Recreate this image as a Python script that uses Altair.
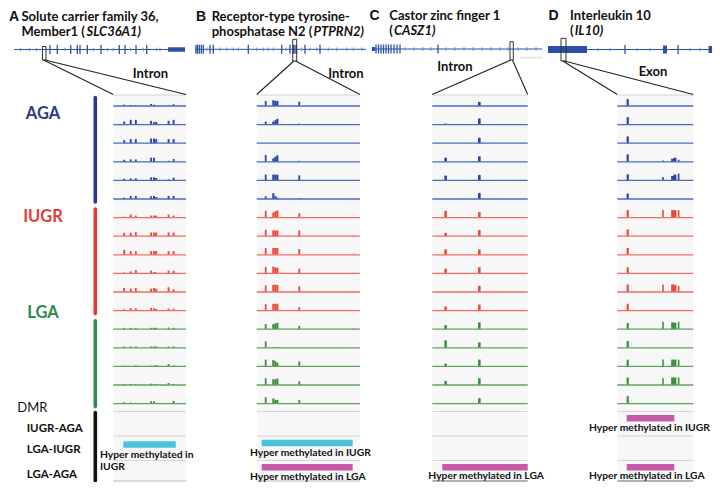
import altair as alt
import pandas as pd

# ------------------------------------------------------------------ data
GROUPS = ["AGA"] * 6 + ["IUGR"] * 6 + ["LGA"] * 5

# relative CpG positions inside each zoomed window (0-100) and methylation levels per sample track
A_pos = [15, 24, 31, 52, 56, 59, 76, 83]
A_lev = [
    [0.20, 0.15, 0.12, 0.30, 0.20, 0.00, 0.10, 0.25],
    [0.45, 0.70, 0.70, 0.55, 0.35, 0.40, 0.55, 0.70],
    [0.45, 0.60, 0.60, 0.70, 0.70, 0.60, 0.60, 0.60],
    [0.30, 0.35, 0.35, 0.60, 0.60, 0.00, 0.15, 0.40],
    [0.25, 0.30, 0.30, 0.45, 0.45, 0.35, 0.15, 0.40],
    [0.20, 0.45, 0.45, 0.40, 0.45, 0.30, 0.45, 0.45],
    [0.15, 0.45, 0.30, 0.30, 0.30, 0.30, 0.45, 0.30],
    [0.50, 0.50, 0.60, 0.55, 0.55, 0.55, 0.55, 0.55],
    [0.75, 0.55, 0.55, 0.55, 0.55, 0.55, 0.55, 0.55],
    [0.15, 0.30, 0.50, 0.40, 0.20, 0.15, 0.40, 0.40],
    [0.60, 0.50, 0.60, 0.50, 0.60, 0.50, 0.70, 0.40],
    [0.20, 0.35, 0.35, 0.40, 0.35, 0.25, 0.30, 0.30],
    [0.20, 0.20, 0.15, 0.20, 0.20, 0.20, 0.25, 0.20],
    [0.20, 0.20, 0.20, 0.20, 0.20, 0.20, 0.20, 0.20],
    [0.10, 0.00, 0.15, 0.10, 0.10, 0.20, 0.35, 0.15],
    [0.15, 0.15, 0.15, 0.20, 0.10, 0.10, 0.30, 0.15],
    [0.20, 0.15, 0.10, 0.35, 0.35, 0.00, 0.10, 0.40],
]
B_pos = [8.7, 16.1, 18.1, 20.0, 41.2, 94.2]
B_lev = [
    [0.75, 0.85, 0.75, 0.75, 0.65, 0.00],
    [0.45, 0.45, 0.65, 0.85, 0.15, 0.00],
    [0.00, 0.00, 0.00, 0.00, 0.00, 0.00],
    [1.00, 0.50, 0.75, 0.95, 0.15, 0.00],
    [0.85, 0.85, 0.85, 0.85, 0.75, 0.00],
    [0.40, 0.85, 0.40, 0.20, 0.15, 0.00],
    [1.00, 0.75, 0.95, 1.05, 0.65, 0.00],
    [0.95, 0.85, 0.85, 0.85, 0.85, 0.10],
    [1.00, 1.00, 1.00, 1.00, 0.85, 0.15],
    [0.95, 1.00, 0.85, 0.85, 0.70, 0.10],
    [0.95, 1.05, 1.05, 1.05, 0.85, 0.10],
    [0.95, 1.00, 1.00, 1.00, 0.50, 0.10],
    [0.75, 0.75, 0.85, 0.95, 0.50, 0.10],
    [0.95, 0.10, 0.10, 0.10, 0.00, 0.00],
    [1.00, 0.95, 0.75, 0.55, 0.75, 0.00],
    [1.00, 0.85, 0.85, 0.95, 0.55, 0.00],
    [0.95, 0.75, 0.55, 0.55, 0.55, 0.00],
]
C_pos = [14.0, 49.3]
C_lev = [
    [0.00, 0.60], [0.15, 0.90], [0.00, 0.80], [0.60, 0.80], [0.70, 0.80], [0.00, 0.90],
    [1.00, 0.80], [0.50, 0.90], [0.80, 0.80], [0.70, 0.90], [0.00, 0.90], [0.60, 0.90],
    [0.60, 1.00], [1.10, 0.80], [0.40, 1.00], [0.60, 1.00], [0.00, 0.80],
]
D_pos = [13.7, 60.1, 72.8, 75.8, 80.7]
D_lev = [
    [1.00, 0.00, 0.00, 0.00, 0.00],
    [1.10, 0.00, 0.00, 0.00, 0.00],
    [1.00, 0.00, 0.00, 0.00, 0.00],
    [1.10, 0.20, 0.45, 0.60, 0.30],
    [0.90, 0.50, 0.65, 0.85, 1.00],
    [0.80, 0.00, 0.00, 0.00, 0.00],
    [1.10, 1.10, 1.10, 1.10, 1.10],
    [1.00, 0.00, 0.00, 0.00, 0.00],
    [1.00, 0.00, 0.00, 0.00, 0.00],
    [0.90, 0.00, 0.00, 0.00, 0.00],
    [1.10, 1.10, 1.10, 1.05, 0.90],
    [1.00, 0.00, 0.00, 0.00, 0.00],
    [0.90, 1.10, 1.00, 0.95, 1.10],
    [1.00, 0.00, 0.00, 0.00, 0.00],
    [1.00, 1.00, 1.00, 1.00, 1.00],
    [1.10, 1.00, 1.10, 1.10, 1.10],
    [1.10, 0.00, 0.00, 0.00, 0.00],
]

# DMRs: (panel, comparison row 0=IUGR-AGA 1=LGA-IUGR 2=LGA-AGA, start, end in window units)
DMR_panel = ["A", "B", "B", "C", "D", "D"]
DMR_row = [1, 1, 2, 2, 0, 2]
DMR_start = [13.8, 4.8, 4.8, 10.5, 12.4, 12.4]
DMR_end = [85.8, 92.9, 92.9, 100.0, 75.0, 75.0]

# gene models (x in figure units) : exon ticks, small intron ticks, thick blocks
GENE_span = {"A": (14, 185), "B": (195, 366), "C": (372, 542), "D": (548, 718)}
GENE_tall = {
    "A": [50, 57.3, 70.7, 77.3, 80, 87.3, 101, 119.3, 125, 136, 146.7],
    "B": [196, 197.5, 199.3, 201.3, 203.3, 210, 213.3, 248.3, 281.7, 290, 293.5, 295, 296.5, 305, 320],
    "C": [376, 378.5, 381, 383.5, 386, 388.5, 391, 394, 397, 400, 438],
    "D": [625, 678],
}
GENE_small = {
    "A": [20.7, 29.3, 36.7, 65, 93.3, 107.3, 113.3, 130.7, 143.3, 156.7, 160],
    "B": [206.7, 220, 226.7, 233.3, 238.3, 256.7, 263.3, 268.3, 273.3, 286, 301.7, 310, 316.7, 328.3, 336.7, 346.7, 353.3, 362],
    "C": [405, 414, 423, 431, 446, 455, 464, 473, 482, 491, 500, 508, 518, 527, 536],
    "D": [598, 610, 637, 650, 690, 700],
}
GENE_block = {
    "A": [(168, 185, 4.5)],
    "B": [],
    "C": [(372, 375, 4.0)],
    "D": [(548, 587, 7.0), (663, 667, 8.0), (708.5, 718, 7.0)],
}

# ------------------------------------------------------------------ layout
PANEL_X = {"A": (113.3, 186.0), "B": (256.7, 360.0), "C": (432.3, 527.7), "D": (617.3, 693.3)}
PANEL_POS = {"A": A_pos, "B": B_pos, "C": C_pos, "D": D_pos}
PANEL_LEV = {"A": A_lev, "B": B_lev, "C": C_lev, "D": D_lev}
PANEL_W = {"A": [1.9] * 8, "B": [1.8, 2.1, 2.1, 2.1, 1.8, 1.8], "C": [2.6, 2.6], "D": [2.2, 1.6, 3.0, 3.0, 1.6]}
PANEL_BOTTOM = {"A": 481.0, "B": 481.0, "C": 481.0, "D": 481.0}
BASE0, STEP, HPX = 106.0, 18.6, 6.8
TOP = 95.0
DMR_LINES = [411.5, 436.0, 460.5]

BAR_COL = {"AGA": "#27459e", "IUGR": "#e84b3c", "LGA": "#3f8f3f"}
LINE_COL = {"AGA": "#4d6cbc", "IUGR": "#ee6e62", "LGA": "#5ea45e"}
LAB_COL = {"AGA": "#2e3a88", "IUGR": "#e53a3a", "LGA": "#2a8c4a"}
DMR_COL = {0: "#c65aa9", 1: "#49c3dc", 2: "#c65aa9"}

rects, rules = [], []

def rel2x(p, r):
    a, b = PANEL_X[p]
    return a + r / 100.0 * (b - a)

for p in "ABCD":
    a, b = PANEL_X[p]
    rects.append(dict(x=a, x2=b, y=TOP, y2=PANEL_BOTTOM[p], c="#f8f7f8"))
    rules.append(dict(x=a, x2=b, y=TOP, y2=TOP, c="#d4d4d4", w=1.2))
    for yy in DMR_LINES:
        rules.append(dict(x=a, x2=b, y=yy, y2=yy, c="#d6d6d6", w=1.2))
    rules.append(dict(x=a, x2=b, y=PANEL_BOTTOM[p], y2=PANEL_BOTTOM[p],
                      c="#9a9a9a" if p in "CD" else "#cfcfcf", w=1.4))
    for i, g in enumerate(GROUPS):
        base = BASE0 + i * STEP
        rules.append(dict(x=a, x2=b, y=base, y2=base, c=LINE_COL[g], w=1.3))
        for j, r in enumerate(PANEL_POS[p]):
            lev = PANEL_LEV[p][i][j]
            if lev > 0:
                cx = rel2x(p, r)
                hw = PANEL_W[p][j] / 2
                rects.append(dict(x=cx - hw, x2=cx + hw, y=base, y2=base - lev * HPX, c=BAR_COL[g]))

# DMR bars
DMR_Y = {0: 418.3, 1: 444.5, 2: 467.2}
for p, row, s, e in zip(DMR_panel, DMR_row, DMR_start, DMR_end):
    yc = DMR_Y[row] + (-1.5 if p == "B" and row == 1 else 0)
    rects.append(dict(x=rel2x(p, s), x2=rel2x(p, e), y=yc - 3.2, y2=yc + 3.2, c=DMR_COL[row]))

# gene models
GENE_Y = {"A": 49.5, "B": 49.3, "C": 49.0, "D": 49.5}
GENE_C = "#2d4fa6"
for p in "ABCD":
    gy = GENE_Y[p]
    s, e = GENE_span[p]
    rules.append(dict(x=s, x2=e, y=gy, y2=gy, c=GENE_C, w=1.0))
    for t in GENE_tall[p]:
        rules.append(dict(x=t, x2=t, y=gy - 4.5, y2=gy + 4.5, c=GENE_C, w=1.3))
    for t in GENE_small[p]:
        rules.append(dict(x=t, x2=t, y=gy - 1.8, y2=gy + 1.8, c="#6f86c8", w=1.0))
    for (bs, be, bh) in GENE_block[p]:
        rects.append(dict(x=bs, x2=be, y=gy - bh / 2, y2=gy + bh / 2, c=GENE_C))
rects.append(dict(x=520, x2=542, y=56.8, y2=58.3, c="#dedede"))

# zoom boxes and connector lines
BOXES = {"A": (42.5, 46.0, 46.5, 60.0), "B": (292.7, 296.7, 39.3, 61.0),
         "C": (510.0, 513.3, 41.7, 60.0), "D": (561.0, 566.0, 38.3, 61.0)}
boxes = []
for p, (bx, bx2, by, by2) in BOXES.items():
    boxes.append(dict(x=bx, x2=bx2, y=by, y2=by2))
    a, b = PANEL_X[p]
    cx = (bx + bx2) / 2
    rules.append(dict(x=cx - 0.8, x2=a, y=by2, y2=TOP - 0.5, c="#222222", w=1.1))
    rules.append(dict(x=cx + 0.8, x2=b, y=by2, y2=TOP - 0.5, c="#222222", w=1.1))

# group bars on the left
vbars = []
VB_COL = {"AGA": "#2b3990", "IUGR": "#e53935", "LGA": "#2e8b4e"}
for g in ["AGA", "IUGR", "LGA"]:
    idx = [i for i, gg in enumerate(GROUPS) if gg == g]
    vbars.append(dict(x=95.3, x2=95.3, y=BASE0 + idx[0] * STEP - 8.5, y2=BASE0 + idx[-1] * STEP + 3.0,
                      c=VB_COL[g], w=3.6))
vbars.append(dict(x=95.3, x2=95.3, y=412.5, y2=480.5, c="#111111", w=3.6))

# texts
texts = []
def T(x, y, s, size=13, color="#111111", font="Lato", weight="bold", style="normal", align="left"):
    texts.append(dict(x=x, y=y, t=s, size=size, c=color, font=font, weight=weight, style=style, align=align))

for L, lx, ly in [("A", 9, 16.5), ("B", 196, 16.5), ("C", 369.5, 15.8), ("D", 548.5, 15.8)]:
    T(lx, ly, L, size=14, font="Liberation Sans")
T(21.5, 16.5, "Solute carrier family 36,")
T(21.5, 32.3, "Member1 (")
T(86.5, 32.3, "SLC36A1)", style="italic")
T(211.7, 16.5, "Receptor-type tyrosine-")
T(211.7, 32.3, "phosphatase N2 (")
T(313.5, 32.3, "PTPRN2)", style="italic")
T(389.3, 15.8, "Castor zinc finger 1")
T(389.3, 31.3, "(")
T(394.0, 31.3, "CASZ1)", style="italic")
T(570, 15.8, "Interleukin 10")
T(570, 31.3, "(")
T(574.7, 31.3, "IL10)", style="italic")
T(150.5, 74, "Intron", align="center")
T(346, 74, "Intron", align="center")
T(455, 66.7, "Intron", align="center")
T(653, 71.7, "Exon", align="center")
for g, yy in [("AGA", 113.5), ("IUGR", 217), ("LGA", 313)]:
    T(43, yy, g, size=16.5, color=LAB_COL[g], align="center")
T(17.3, 407.7, "DMR", size=13, weight="normal")
T(26.7, 429.3, "IUGR-AGA", size=11.5)
T(26.7, 450, "LGA-IUGR", size=11.5)
T(26.7, 474.5, "LGA-AGA", size=11.5)
DS = 10.3
T(100, 455, "Hyper methylated in", size=DS)
T(100, 467.3, "IUGR", size=DS)
T(250, 453.3, "Hyper methylated in IUGR", size=DS)
T(250, 476.5, "Hyper methylated in LGA", size=DS)
T(428.3, 476, "Hyper methylated in LGA", size=DS)
T(589, 428.3, "Hyper methylated in IUGR", size=DS)
T(589, 476, "Hyper methylated in LGA", size=DS)

# ------------------------------------------------------------------ chart
xs = alt.Scale(domain=[8, 712], nice=False, zero=False)
ys = alt.Scale(domain=[8, 482], nice=False, zero=False, reverse=True)

def xy():
    return dict(
        x=alt.X("x:Q", scale=xs, axis=None),
        x2=alt.X2("x2:Q"),
        y=alt.Y("y:Q", scale=ys, axis=None),
        y2=alt.Y2("y2:Q"),
    )

rect_layer = alt.Chart(pd.DataFrame(rects)).mark_rect(strokeWidth=0).encode(
    **xy(), color=alt.Color("c:N", scale=None))
rule_layer = alt.Chart(pd.DataFrame(rules)).mark_rule().encode(
    **xy(), color=alt.Color("c:N", scale=None), strokeWidth=alt.StrokeWidth("w:Q", scale=None))
box_layer = alt.Chart(pd.DataFrame(boxes)).mark_rect(fillOpacity=0, stroke="#333333", strokeWidth=1).encode(**xy())
vbar_layer = alt.Chart(pd.DataFrame(vbars)).mark_rule(strokeCap="round").encode(
    **xy(), color=alt.Color("c:N", scale=None), strokeWidth=alt.StrokeWidth("w:Q", scale=None))

tdf = pd.DataFrame(texts)
text_layers = []
for (font, weight, style, align), sub in tdf.groupby(["font", "weight", "style", "align"]):
    text_layers.append(
        alt.Chart(sub).mark_text(font=font, fontWeight=weight, fontStyle=style, align=align, baseline="middle").encode(
            x=alt.X("x:Q", scale=xs, axis=None),
            y=alt.Y("y:Q", scale=ys, axis=None),
            text="t:N",
            color=alt.Color("c:N", scale=None),
            size=alt.Size("size:Q", scale=None),
        )
    )

chart = alt.layer(rect_layer, rule_layer, box_layer, vbar_layer, *text_layers).properties(
    width=704, height=474, padding=0, background="white",
    autosize=alt.AutoSizeParams(type="none"),
).configure_view(stroke=None)

chart.save("out.html", embed_options={"renderer": "svg", "actions": False})
